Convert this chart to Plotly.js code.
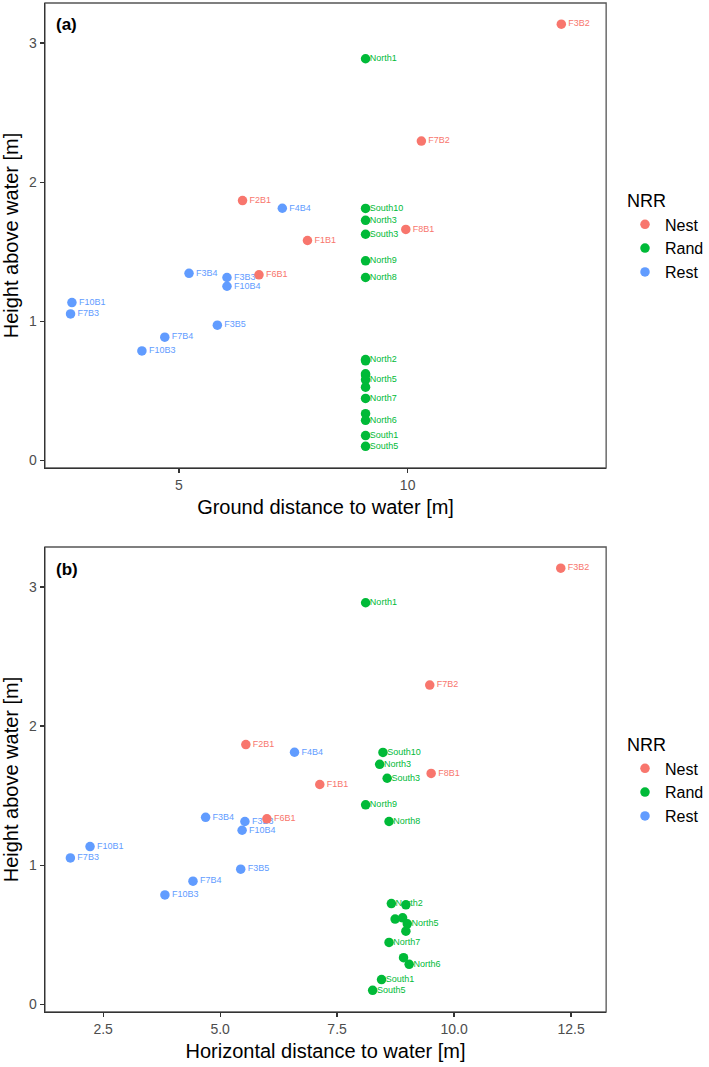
<!DOCTYPE html>
<html>
<head>
<meta charset="utf-8">
<script src="https://cdn.plot.ly/plotly-3.0.1.min.js"></script>
<style>html,body{margin:0;padding:0;background:#fff;}#chart{width:709px;height:1067px;}</style>
</head>
<body>
<div id="chart"></div>
<script>
// ---- data ----
var groups = ["Nest", "Rand", "Rest"];
var groupColors = ["#F8766D", "#00BA38", "#619CFF"];

var nestNames = ["F3B2", "F7B2", "F2B1", "F8B1", "F1B1", "F6B1"];
var nestGround = [13.36, 10.30, 6.39, 9.96, 7.81, 6.75];
var nestHoriz = [12.28, 9.48, 5.55, 9.51, 7.13, 6.00];
var nestHeight = [3.136, 2.295, 1.867, 1.660, 1.580, 1.333];

// "" = point whose label was not drawn in the original (overlap)
var randNames = ["North1", "South10", "North3", "South3", "North9", "North8", "North2", "", "", "", "North5", "", "North7", "", "North6", "South1", "South5"];
var randGround = [9.08, 9.08, 9.08, 9.08, 9.08, 9.08, 9.08, 9.08, 9.08, 9.08, 9.08, 9.08, 9.08, 9.08, 9.08, 9.08, 9.08];
var randHoriz = [8.11, 8.48, 8.41, 8.57, 8.11, 8.61, 8.66, 8.97, 8.74, 8.90, 9.00, 8.97, 8.61, 8.92, 9.04, 8.45, 8.26];
var randHeight = [2.887, 1.811, 1.725, 1.625, 1.434, 1.314, 0.724, 0.715, 0.612, 0.621, 0.578, 0.525, 0.444, 0.335, 0.287, 0.177, 0.100];

var restNames = ["F4B4", "F3B4", "F3B3", "F10B4", "F10B1", "F7B3", "F3B5", "F7B4", "F10B3"];
var restGround = [7.26, 5.22, 6.05, 6.05, 2.66, 2.63, 5.84, 4.69, 4.19];
var restHoriz = [6.59, 4.69, 5.53, 5.47, 2.22, 1.80, 5.44, 4.42, 3.82];
var restHeight = [1.812, 1.344, 1.314, 1.251, 1.134, 1.052, 0.971, 0.885, 0.786];

var xTitleA = "Ground distance to water [m]";
var xTitleB = "Horizontal distance to water [m]";
var yTitle = "Height above water [m]";
var legendTitle = "NRR";
var xTicksA = [5, 10];
var xTicksB = [2.5, 5.0, 7.5, 10.0, 12.5];
var yTicks = [0, 1, 2, 3];

// ---- build ----
var FONT = "Liberation Sans, Arial, Helvetica, sans-serif";
var sets = [
  {names: nestNames, a: nestGround, b: nestHoriz, y: nestHeight, off: 9.6},
  {names: randNames, a: randGround, b: randHoriz, y: randHeight, off: 5.2},
  {names: restNames, a: restGround, b: restHoriz, y: restHeight, off: 9.6}
];

var traces = [];
// labels first (drawn under the points)
[["a", "x", "y"], ["b", "x2", "y2"]].forEach(function (p) {
  sets.forEach(function (s, i) {
    traces.push({
      type: "scatter", mode: "markers+text",
      x: s[p[0]], y: s.y, text: s.names,
      xaxis: p[1], yaxis: p[2],
      textposition: "middle right",
      textfont: {family: FONT, size: 9, color: groupColors[i]},
      marker: {size: s.off, opacity: 0},
      showlegend: false, hoverinfo: "skip", cliponaxis: false
    });
  });
});
// points
[["a", "x", "y", "legend"], ["b", "x2", "y2", "legend2"]].forEach(function (p) {
  sets.forEach(function (s, i) {
    traces.push({
      type: "scatter", mode: "markers",
      x: s[p[0]], y: s.y, name: groups[i],
      xaxis: p[1], yaxis: p[2], legend: p[3],
      marker: {size: 9.5, color: groupColors[i]},
      hovertext: s.names, cliponaxis: false
    });
  });
});

var W = 709, H = 1067;
var xDom = [45 / W, 607 / W];
var yDomA = [1 - 468 / H, 1 - 3 / H];
var yDomB = [1 - 1012 / H, 1 - 547 / H];

function xAxis(range, ticks, title, anchor, fmt) {
  return {
    domain: xDom, range: range, anchor: anchor,
    tickmode: "array", tickvals: ticks, tickformat: fmt,
    showgrid: false, zeroline: false,
    showline: true, linecolor: "#333333", linewidth: 1.3,
    ticks: "outside", ticklen: 4, tickcolor: "#333333", tickwidth: 1.2,
    tickfont: {family: FONT, size: 14, color: "#4D4D4D"},
    title: {text: title, font: {family: FONT, size: 20, color: "#000"}, standoff: 8}
  };
}
function yAxis(dom, anchor) {
  return {
    domain: dom, range: [-0.056, 3.288], anchor: anchor,
    tickmode: "array", tickvals: yTicks,
    showgrid: false, zeroline: false,
    showline: true, linecolor: "#333333", linewidth: 1.3,
    ticks: "outside", ticklen: 4, tickcolor: "#333333", tickwidth: 1.2,
    tickfont: {family: FONT, size: 14, color: "#4D4D4D"},
    title: {text: yTitle, font: {family: FONT, size: 20, color: "#000"}, standoff: 6}
  };
}
function legendCfg(top) {
  return {
    x: 626 / W, xanchor: "left", y: 1 - top / H, yanchor: "top",
    bgcolor: "rgba(0,0,0,0)", borderwidth: 0,
    font: {family: FONT, size: 16, color: "#000"},
    title: {text: legendTitle, font: {family: FONT, size: 18, color: "#000"}}
  };
}

var layout = {
  width: W, height: H,
  margin: {l: 0, r: 0, t: 0, b: 0},
  paper_bgcolor: "#fff", plot_bgcolor: "#fff",
  font: {family: FONT},
  xaxis: xAxis([2.07, 14.34], xTicksA, xTitleA, "y", ""),
  yaxis: yAxis(yDomA, "x"),
  xaxis2: xAxis([1.256, 13.25], xTicksB, xTitleB, "y2", ".1f"),
  yaxis2: yAxis(yDomB, "x2"),
  legend: legendCfg(184),
  legend2: legendCfg(728),
  shapes: [
    {type: "rect", xref: "x domain", yref: "y domain", x0: 0, x1: 1, y0: 0, y1: 1,
     line: {color: "#555555", width: 1.3}, layer: "below"},
    {type: "rect", xref: "x2 domain", yref: "y2 domain", x0: 0, x1: 1, y0: 0, y1: 1,
     line: {color: "#555555", width: 1.3}, layer: "below"}
  ],
  annotations: [
    {text: "<b>(a)</b>", xref: "paper", yref: "paper", x: 54 / W, y: 1 - 25 / H,
     xanchor: "left", yanchor: "middle", showarrow: false,
     font: {family: FONT, size: 17, color: "#000"}},
    {text: "<b>(b)</b>", xref: "paper", yref: "paper", x: 54 / W, y: 1 - 569 / H,
     xanchor: "left", yanchor: "middle", showarrow: false,
     font: {family: FONT, size: 17, color: "#000"}}
  ],
  showlegend: true
};

Plotly.newPlot("chart", traces, layout, {displayModeBar: false, staticPlot: true});
</script>
</body>
</html>
